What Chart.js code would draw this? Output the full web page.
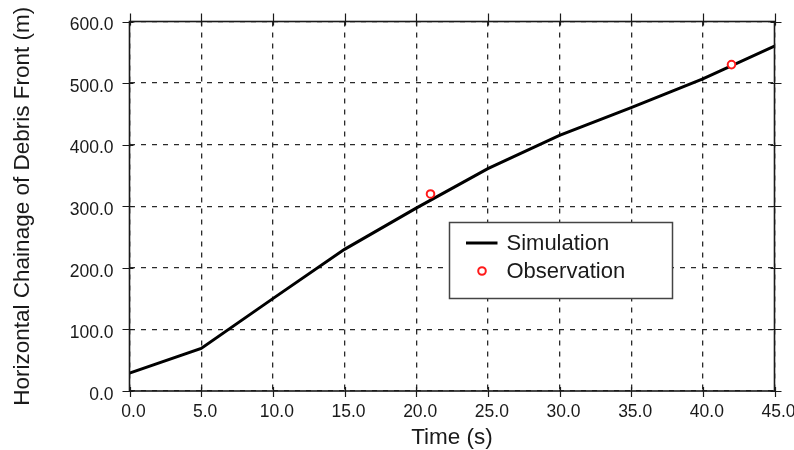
<!DOCTYPE html>
<html>
<head>
<meta charset="utf-8">
<script src="https://cdn.jsdelivr.net/npm/chart.js@4/dist/chart.umd.min.js"></script>
<style>
  html, body { margin: 0; padding: 0; background: #fff; }
  #wrap { width: 794px; height: 450px; position: relative; }
</style>
</head>
<body>
<div id="wrap"><canvas id="c" width="794" height="450"></canvas></div>
<script>
// ---- data ----
const simTime = [0, 5, 10, 15, 20, 25, 30, 35, 40, 45];
const simChainage = [29, 69, 150, 230, 297, 361, 415, 460, 507, 560];
const obsTime = [21, 42];
const obsChainage = [320, 530];
const xTickValues = [0, 5, 10, 15, 20, 25, 30, 35, 40, 45];
const yTickValues = [0, 100, 200, 300, 400, 500, 600];
const seriesNames = ['Simulation', 'Observation'];
const xTitle = 'Time (s)';
const yTitle = 'Horizontal Chainage of Debris Front (m)';

const FONT = '"Liberation Sans", Arial, sans-serif';
const TEXT = '#1a1a1a';

const simData = simTime.map((t, i) => ({ x: t, y: simChainage[i] }));
const obsData = obsTime.map((t, i) => ({ x: t, y: obsChainage[i] }));

// frame, crossing ticks and in-plot legend
const framePlugin = {
  id: 'frame',
  afterDatasetsDraw(chart) {
    const { ctx, chartArea: a, scales } = chart;
    ctx.save();
    ctx.strokeStyle = '#1a1a1a';
    ctx.lineWidth = 1.6;
    ctx.strokeRect(a.left, a.top, a.right - a.left, a.bottom - a.top);
    ctx.lineWidth = 1.2;
    ctx.beginPath();
    xTickValues.forEach(v => {
      const x = Math.round(scales.x.getPixelForValue(v)) + 0.5;
      ctx.moveTo(x, a.bottom - 4); ctx.lineTo(x, a.bottom + 6);
      ctx.moveTo(x, a.top - 8); ctx.lineTo(x, a.top + 4);
    });
    yTickValues.forEach(v => {
      const y = Math.round(scales.y.getPixelForValue(v)) + 0.5;
      ctx.moveTo(a.left - 7, y); ctx.lineTo(a.left + 4, y);
      ctx.moveTo(a.right - 4, y); ctx.lineTo(a.right + 7, y);
    });
    ctx.stroke();
    ctx.restore();
  },
  afterDraw(chart) {
    const { ctx, chartArea: a } = chart;
    const ds = chart.data.datasets;
    const bx = a.left + 320, by = a.top + 201, bw = 223, bh = 76;
    ctx.save();
    ctx.fillStyle = '#fff';
    ctx.fillRect(bx, by, bw, bh);
    ctx.strokeStyle = '#444';
    ctx.lineWidth = 1.5;
    ctx.strokeRect(bx, by, bw, bh);
    const y1 = by + 20.5, y2 = by + 48.5;
    ctx.strokeStyle = ds[0].borderColor;
    ctx.lineWidth = ds[0].borderWidth;
    ctx.beginPath(); ctx.moveTo(bx + 16.5, y1); ctx.lineTo(bx + 48, y1); ctx.stroke();
    ctx.strokeStyle = ds[1].pointBorderColor;
    ctx.fillStyle = ds[1].pointBackgroundColor;
    ctx.lineWidth = ds[1].pointBorderWidth;
    ctx.beginPath(); ctx.arc(bx + 32.5, y2, ds[1].pointRadius, 0, Math.PI * 2); ctx.fill(); ctx.stroke();
    ctx.fillStyle = TEXT;
    ctx.font = '22px ' + FONT;
    ctx.textBaseline = 'middle';
    ctx.textAlign = 'left';
    ctx.fillText(ds[0].label, bx + 57, y1 + 1);
    ctx.fillText(ds[1].label, bx + 57, y2 + 1);
    ctx.restore();
  }
};

new Chart(document.getElementById('c'), {
  type: 'scatter',
  data: {
    datasets: [
      {
        label: seriesNames[0],
        data: simData,
        showLine: true,
        borderColor: '#000',
        borderWidth: 3,
        pointRadius: 0,
        tension: 0,
        order: 2
      },
      {
        label: seriesNames[1],
        data: obsData,
        showLine: false,
        pointStyle: 'circle',
        pointRadius: 3.8,
        pointBorderWidth: 2,
        pointBorderColor: '#ff1a1a',
        pointBackgroundColor: '#ffffff',
        order: 1
      }
    ]
  },
  options: {
    responsive: false,
    animation: false,
    devicePixelRatio: 1,
    layout: { padding: { left: 0, top: 21.5, right: 19.5, bottom: 0 } },
    plugins: { legend: { display: false }, tooltip: { enabled: false } },
    scales: {
      x: {
        type: 'linear',
        min: 0, max: 45,
        afterBuildTicks: s => { s.ticks = xTickValues.map(v => ({ value: v })); },
        afterFit: s => { s.height = 59; },
        ticks: {
          autoSkip: false,
          maxRotation: 0,
          padding: 0,
          labelOffset: 4,
          color: TEXT,
          font: { family: FONT, size: 17.5 },
          callback: v => Number(v).toFixed(1)
        },
        grid: { color: '#2a2a2a', lineWidth: 1.3, drawTicks: true, tickLength: 11, tickColor: 'rgba(0,0,0,0)' },
        border: { display: false, dash: [5, 6] },
        title: {
          display: true,
          text: xTitle,
          color: TEXT,
          font: { family: FONT, size: 22.5, lineHeight: 1.1 },
          padding: { top: 0, bottom: 0 }
        }
      },
      y: {
        type: 'linear',
        min: 0, max: 600,
        afterBuildTicks: s => { s.ticks = yTickValues.map(v => ({ value: v })); },
        afterFit: s => { s.width = 129.5; },
        ticks: {
          padding: 0,
          labelOffset: 4,
          color: TEXT,
          font: { family: FONT, size: 17.5 },
          callback: v => Number(v).toFixed(1)
        },
        grid: { color: '#2a2a2a', lineWidth: 1.3, drawTicks: true, tickLength: 16, tickColor: 'rgba(0,0,0,0)' },
        border: { display: false, dash: [5, 6] },
        title: {
          display: true,
          text: yTitle,
          color: TEXT,
          font: { family: FONT, size: 22.5, lineHeight: 1.1 },
          padding: { top: 10, bottom: 0 }
        }
      }
    }
  },
  plugins: [framePlugin]
});
</script>
</body>
</html>
